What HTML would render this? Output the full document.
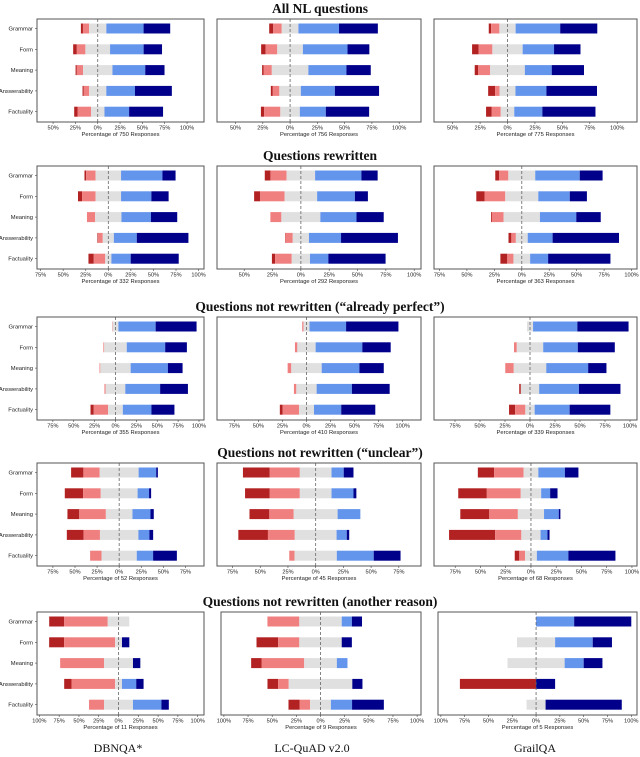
<!DOCTYPE html>
<html><head><meta charset="utf-8">
<style>
html,body{margin:0;padding:0;background:#fff;}
svg{display:block;}
.t{font-family:"Liberation Sans",sans-serif;fill:#222;}
.ti{font-family:"Liberation Serif",serif;font-weight:bold;fill:#111;}
.ds{font-family:"Liberation Serif",serif;fill:#111;}
</style></head>
<body>
<svg id="c" width="640" height="757" viewBox="0 0 640 757" xmlns="http://www.w3.org/2000/svg"></svg>
<script>
const categories = ["Grammar","Form","Meaning","Answerability","Factuality"];
const rowTitles = ["All NL questions","Questions rewritten","Questions not rewritten (\u201calready perfect\u201d)","Questions not rewritten (\u201cunclear\u201d)","Questions not rewritten (another reason)"];
const datasets = ["DBNQA*","LC-QuAD v2.0","GrailQA"];
const responseCounts = [[750,756,775],[332,292,363],[355,410,339],[52,45,68],[11,9,5]];
// each row: [strongly disagree, disagree, neutral, agree, strongly agree] in %
const r1p1 = [[2.3,6.9,19.3,41.7,29.8],[4.1,9.6,27.6,37.6,20.6],[1.4,6.9,33,36.7,21.6],[1.4,6,19.2,32.1,41.3],[3.7,15.1,15.1,27.6,38]];
const r1p2 = [[3.7,7.8,15.3,37.2,35.6],[4.1,10.7,23.5,40.9,20],[1.5,7.4,33.5,34.9,22.3],[1.8,6,19.7,31.2,40.5],[3,14.8,17.9,23.8,39.7]];
const r1p3 = [[2.2,7.5,14.8,40.6,33.8],[5.9,12.6,27.6,28.6,24.1],[3,11.1,31.6,24.5,29.4],[6.3,4.1,14.5,28.2,46.1],[5.2,8.2,12.3,25.6,48.4]];
const r2p1 = [[1.9,10.4,28.2,45.9,14.5],[4.5,15,28.2,33.6,19.1],[0,9.1,29.1,32.7,29.1],[0.9,5,12.3,25.4,57.2],[5.9,12.7,6.8,21.4,53.2]];
const r2p2 = [[5,14.3,25.1,40.9,14.3],[5.4,21.5,28.7,33.3,11.5],[0,9.7,34.4,31.9,24],[0.3,6.5,14.3,28.3,50.2],[2.8,14.7,16.1,16.2,50.5]];
const r2p3 = [[3.4,8.5,24.5,40.6,20.8],[7.5,18.9,30.1,28.7,15.6],[0.8,10.7,33.1,33.1,22.3],[2.6,4.1,10.8,22.7,60.5],[6.3,5.6,15.2,16.4,56.8]];
const r3p1 = [[0,0.5,7,44.6,49],[0,1,27,46,26],[0,1,36.3,44.6,17.6],[0,1.5,23.5,41.7,33.3],[3.9,17.2,17.6,34.3,27.5]];
const r3p2 = [[0,1.3,6.3,38,54.4],[0,2.5,19,48.5,29.5],[0,3.8,31.6,39.2,25.3],[0,2.5,21.1,36.7,39.2],[3,16.9,15.6,28.3,35.4]];
const r3p3 = [[0,0,6.1,44.3,51.2],[0,2.8,26.4,34.6,37],[0,8.5,32.5,41.9,18.3],[1.6,0,18.3,39.8,41.5],[6.1,10.2,9.3,35,40.7]];
const r4p1 = [[13.9,18.5,44,19.9,1.9],[20.8,19.9,41.7,13,2.3],[13.4,30.1,30.1,20.4,3.7],[19,18.5,43.5,12.5,4.2],[0,13,39.8,18.5,26.9]];
const r4p2 = [[24.2,27.1,28.6,11,8.8],[22.3,27.1,28.6,19.8,2.6],[17.9,22,39.6,20.5,0],[26.7,24.2,37.7,9.2,2.2],[0,4.8,38.1,33.3,24.2]];
const r4p3 = [[16.2,29.1,14.6,26.3,13.4],[28.3,33.6,20.2,8.9,7.3],[28.7,28.3,25.9,14.6,1.6],[45.7,25.9,19,6.9,2],[4.5,5.7,11.7,31.2,46.6]];
const r5p1 = [[19,55,27.2,0,0],[19,64.3,8.7,0,9.3],[0,55.5,36.5,0,9.3],[9.3,55,8.7,18,9.3],[0,19,36.5,36,9.3]];
const r5p2 = [[0,33,43.9,10.5,10.5],[22.4,21.9,43.9,0,10.5],[11,43.9,33.8,11,0],[11,11,65.8,0,10.5],[11.4,11,21.5,21.9,32.9]];
const r5p3 = [[0,0,0,40,60],[0,0,40,39.5,20.2],[0,0,60,20,19.7],[80,0,0,0,20],[0,0,20,0,80]];
const panelData = [[r1p1,r1p2,r1p3],[r2p1,r2p2,r2p3],[r3p1,r3p2,r3p3],[r4p1,r4p2,r4p3],[r5p1,r5p2,r5p3]];
// axis domains (% at left / right edge of frame)
const domainsLo = [[-68,-67,-67],[-79,-74,-80],[-94,-93,-96],[-93,-89,-96],[-103,-103,-103]];
const domainsHi = [[119,120,118],[106,106,105],[106,119,107],[96,95,105],[108,104,106]];
const ticksLo = [[-50,-50,-50],[-75,-50,-75],[-75,-75,-75],[-75,-75,-75],[-100,-100,-100]];
const ticksHi = [[100,100,100],[100,100,100],[100,100,100],[75,75,100],[100,100,100]];

const colors = ["#b22222","#f08080","#e0e0e0","#6495ed","#00008b"];
const segNames = ["strongly-disagree","disagree","neutral","agree","strongly-agree"];
const NS = "http://www.w3.org/2000/svg";
const svg = document.getElementById("c");
function mk(tag, attrs, parent){const e=document.createElementNS(NS,tag);for(const k in attrs)e.setAttribute(k,attrs[k]);(parent||svg).appendChild(e);return e;}

const rowTop = [19,166,317,463,612];
const boxH = 103;
const colX = [[37,204],[217,421],[434,637]];
const colX5 = [[37,204],[221,421],[438,637]];

for(let r=0;r<5;r++){
  const tt = mk("text",{x:320,y:rowTop[r]-6,"text-anchor":"middle","font-size":"13.5",class:"ti"});
  tt.textContent = rowTitles[r];
  
  
  for(let c=0;c<3;c++){
    const g = mk("g",{});
    
    
    const xs = (r===4?colX5:colX)[c];
    const x0=xs[0], x1=xs[1];
    const lo=domainsLo[r][c], hi=domainsHi[r][c];
    const X = v => x0 + (v-lo)/(hi-lo)*(x1-x0);
    const top=rowTop[r], bot=top+boxH;
    const Y = i => top + 9.5 + i*20.8;
    if(c===0){
      categories.forEach((cat,i)=>{
        const t=mk("text",{x:33,y:Y(i)+2,"text-anchor":"end","font-size":"5.8",class:"t"},g);
        t.textContent=cat;
        
        
        mk("line",{x1:x0-2,x2:x0,y1:Y(i),y2:Y(i),stroke:"#444","stroke-width":0.6},g);
      });
    }
    const data = panelData[r][c];
    data.forEach((vals,i)=>{
      let start = -(vals[0]+vals[1]+vals[2]/2);
      vals.forEach((v,k)=>{
        if(v>0){
          const rc=mk("rect",{x:X(start),y:Y(i)-5,width:Math.max(0.3,X(start+v)-X(start)),height:10,fill:colors[k]},g);
          
          
        }
        start+=v;
      });
    });
    const zl=mk("line",{x1:X(0),x2:X(0),y1:top,y2:bot,stroke:"#666","stroke-width":0.8,"stroke-dasharray":"3,2"},g);
    
    
    const fr=mk("rect",{x:x0,y:top,width:x1-x0,height:boxH,fill:"none",stroke:"#555","stroke-width":1},g);
    
    
    for(let tv=ticksLo[r][c]; tv<=ticksHi[r][c]; tv+=25){
      const tx=X(tv);
      mk("line",{x1:tx,x2:tx,y1:bot,y2:bot+2,stroke:"#444","stroke-width":0.6},g);
      const tl=mk("text",{x:tx,y:bot+7.5,"text-anchor":"middle","font-size":"5.6",class:"t"},g);
      tl.textContent=Math.abs(tv)+"%";
      
      
    }
    const xl=mk("text",{x:(x0+x1)/2,y:bot+14,"text-anchor":"middle","font-size":"5.8",class:"t"},g);
    xl.textContent="Percentage of "+responseCounts[r][c]+" Responses";
    
    
  }
}
const dsX=[118,312,535];
datasets.forEach((d,i)=>{
  const t=mk("text",{x:dsX[i],y:752,"text-anchor":"middle","font-size":"12",class:"ds"});
  t.textContent=d;
  
  
});
</script>
</body></html>
